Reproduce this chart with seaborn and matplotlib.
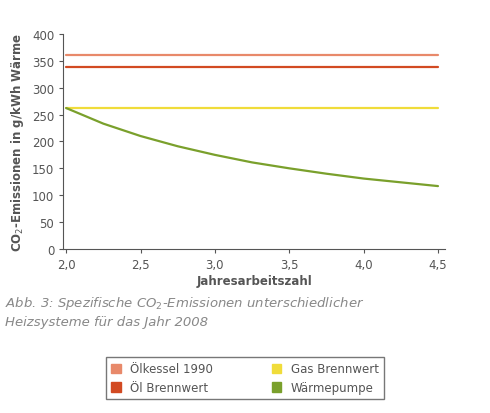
import matplotlib
matplotlib.use("Agg")
import matplotlib.pyplot as plt
import seaborn as sns
import pandas as pd

sns.set_style("white")
plt.rcParams['font.family'] = ['DejaVu Sans']

x_vals = [2.0, 2.25, 2.5, 2.75, 3.0, 3.25, 3.5, 3.75, 4.0, 4.25, 4.5]
waermepumpe = [262, 233, 210, 191, 175, 161, 150, 140, 131, 124, 117]
oelkessel = 360
oel_brennwert = 338
gas_brennwert = 262
names = ["Ölkessel 1990", "Öl Brennwert", "Gas Brennwert", "Wärmepumpe"]
colors = ["#e8896a", "#d24a22", "#f0dc3a", "#7aa02c"]

rows = []
for xv, wp in zip(x_vals, waermepumpe):
    for n, v in zip(names, [oelkessel, oel_brennwert, gas_brennwert, wp]):
        rows.append((xv, n, v))
df = pd.DataFrame(rows, columns=["x", "serie", "y"])

grey = "#555555"
fig = plt.figure(figsize=(4.9, 4.14), dpi=100)
ax = fig.add_axes([0.129, 0.396, 0.78, 0.52])
sns.lineplot(data=df, x="x", y="y", hue="serie", palette=colors, hue_order=names,
             linewidth=1.6, ax=ax, legend=False)
ax.set_xlim(1.98, 4.55)
ax.set_ylim(0, 400)
ax.set_xticks([2.0, 2.5, 3.0, 3.5, 4.0, 4.5])
ax.set_xticklabels(["2,0", "2,5", "3,0", "3,5", "4,0", "4,5"])
ax.set_yticks(range(0, 401, 50))
for s in ["top", "right"]:
    ax.spines[s].set_visible(False)
for s in ["left", "bottom"]:
    ax.spines[s].set_color(grey)
ax.tick_params(colors=grey, labelsize=8.5, length=3, direction="out", bottom=True, left=True)
ax.set_xlabel("Jahresarbeitszahl", color=grey, fontsize=8.5, fontweight="bold", labelpad=2)
ax.set_ylabel("CO$_2$-Emissionen in g/kWh Wärme", color=grey, fontsize=8.5, fontweight="bold")

fig.text(0.01, 0.205, "Abb. 3: Spezifische CO$_2$-Emissionen unterschiedlicher\nHeizsysteme für das Jahr 2008",
         color="#888888", fontsize=9.5, style="italic", va="bottom", linespacing=1.4)

handles = [plt.Rectangle((0, 0), 1, 1, color=c) for c in colors]
leg = fig.legend(handles, names, ncol=2,
                 loc="lower center", bbox_to_anchor=(0.5, 0.02), fontsize=8.5,
                 frameon=True, fancybox=False, edgecolor=grey, handlelength=0.8,
                 handleheight=0.8, columnspacing=5, labelcolor=grey)
fig.savefig("out.png", dpi=100)
